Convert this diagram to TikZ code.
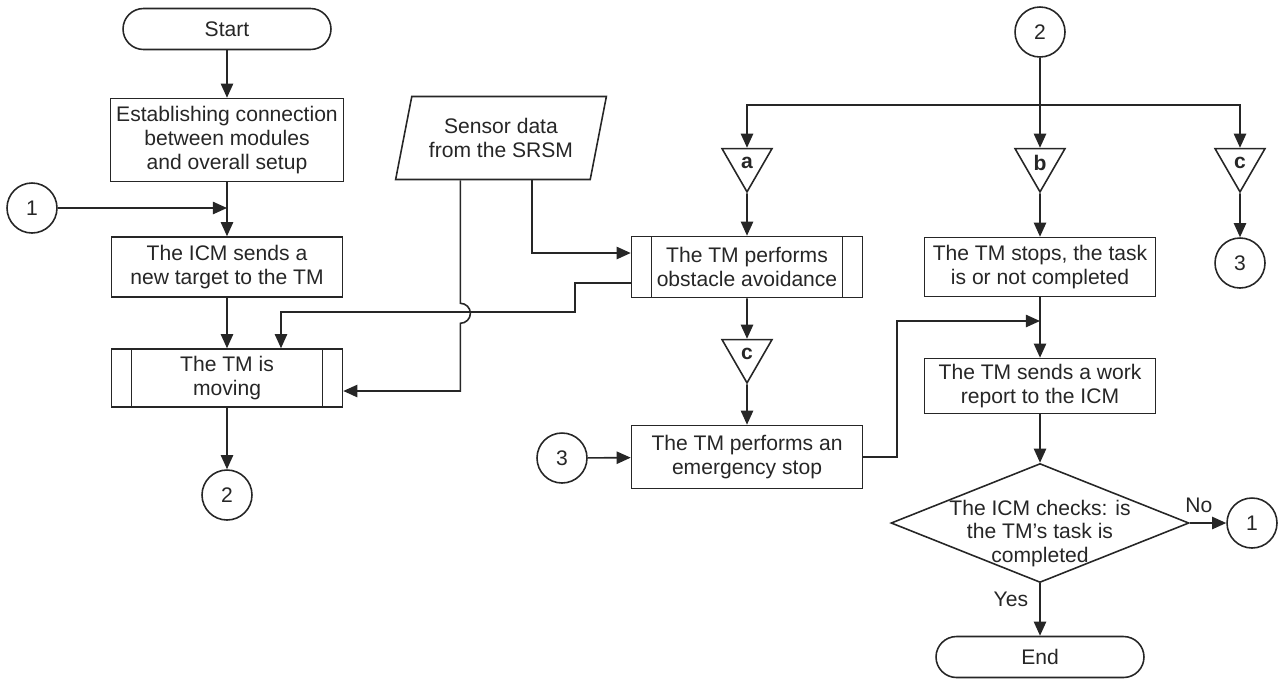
\documentclass[tikz,border=0pt]{standalone}
\usepackage{fontspec}
\setmainfont{Liberation Sans}
\usetikzlibrary{arrows.meta, shapes.geometric, calc, positioning}

\newcommand{\fsz}{\fontsize{12}{13.5}\selectfont}

\tikzset{
  box/.style={draw, minimum width=4.62cm, align=center, font=\fsz},
  term/.style={draw, rounded corners=0.41cm, minimum width=4.16cm, minimum height=0.82cm, font=\fsz},
  proc/.style={box, path picture={
      \draw[line width=0.9pt] ([xshift=0.4cm]path picture bounding box.north west) -- ([xshift=0.4cm]path picture bounding box.south west);
      \draw[line width=0.9pt] ([xshift=-0.4cm]path picture bounding box.north east) -- ([xshift=-0.4cm]path picture bounding box.south east);}},
  conn/.style={draw, circle, minimum size=1cm, inner sep=0pt, font=\fsz},
  tri/.style={draw, regular polygon, regular polygon sides=3, shape border rotate=180, minimum size=1.155cm, inner sep=0pt, font=\fsz\bfseries},
  data/.style={draw, trapezium, trapezium left angle=74.5, trapezium right angle=105.5, trapezium stretches=true, minimum width=4.22cm, minimum height=1.66cm, align=center, font=\fsz},
  dec/.style={draw, diamond, minimum width=5.96cm, minimum height=2.38cm, inner sep=0pt}
}

\begin{document}
\begin{tikzpicture}[x=0.02cm, y=-0.02cm, line width=0.9pt, color=black!85, >={Triangle[length=8pt,width=7pt]}]
\useasboundingbox (0,0) rectangle (1280,681);

\node[term] (start) at (227,29) {Start};
\node[box, minimum height=1.66cm] (setup) at (227,140) {Establishing connection\\between modules\\and overall setup};
\node[conn] (c1) at (32,208) {1};
\node[box, minimum height=1.2cm] (target) at (227,267) {The ICM sends a\\new target to the TM};
\node[proc, minimum height=1.16cm] (moving) at (227,378) {The TM is\\moving};
\node[conn] (c2) at (227,495) {2};
\node[data] (sens) at (501,138) {Sensor data\\from the SRSM};
\node[proc, minimum height=1.22cm] (avoid) at (747,267) {The TM performs\\obstacle avoidance};
\node[tri] (tricl) at (747,354) {\raisebox{-0.08cm}{c}};
\node[box, minimum height=1.26cm] (emerg) at (747,457) {The TM performs an\\emergency stop};
\node[conn] (c3l) at (562,458) {3};
\node[conn] (c2t) at (1040,32) {2};
\coordinate (split) at (1040,105);
\foreach \n/\x in {a/747, b/1040, c/1240}
  \node[tri] (tri\n) at (\x,163) {\raisebox{-0.08cm}{\n}};
\node[conn] (c3r) at (1240,263) {3};
\node[box, minimum height=1.18cm] (stops) at (1040,267) {The TM stops, the task\\is or not completed};
\coordinate (merge) at (1040,321);
\node[box, minimum height=1.1cm] (report) at (1040,386) {The TM sends a work\\report to the ICM};
\node[dec, label={[font=\fsz, align=center, yshift=-0.21cm]center:The ICM checks: is\\the TM's task is\\completed}] (check) at (1040,523) {};
\node[conn] (c1r) at (1252,523) {1};
\node[term] (end) at (1040,657) {End};

\draw[->] (start) -- (setup);
\draw[->] (setup) -- (target);
\draw[->] (c1) -- (c1 -| setup);
\draw[->] (target) -- (moving);
\draw[->] (moving) -- (c2);
\draw[->] ($(sens.bottom left corner)!0.7!(sens.bottom right corner)$) |- ([yshift=0.28cm]avoid.west);
\draw[->] ($(sens.bottom left corner)!0.335!(sens.bottom right corner)$) -- ++(0,123)
  arc[start angle=90, end angle=-90, radius=0.2cm] |- ([yshift=-0.26cm]moving.east);
\draw[->] ([yshift=-0.32cm]avoid.west) -- ++(-56,0) -- ++(0,29) -| ([xshift=1.08cm]moving.north);
\draw[->] (tria) -- (avoid);
\draw[->] (avoid) -- (tricl);
\draw[->] (tricl) -- (emerg);
\draw[->] (c3l) -- (emerg);
\draw[->] (emerg.east) -- ++(34,0) |- (merge);
\draw (c2t) -- (split);
\draw[->] (split) -| (tria);
\draw[->] (split) -- (trib);
\draw[->] (split) -| (tric);
\draw[->] (tric) -- (c3r);
\draw[->] (trib) -- (stops);
\draw[->] (stops) -- (report);
\draw[->] (report) -- (check);
\draw[->] (check) -- node[pos=0.25, above=2pt, font=\fsz] {No} (c1r);
\draw[->] (check) -- node[pos=0.3, left=3pt, font=\fsz] {Yes} (end);
\end{tikzpicture}
\end{document}
